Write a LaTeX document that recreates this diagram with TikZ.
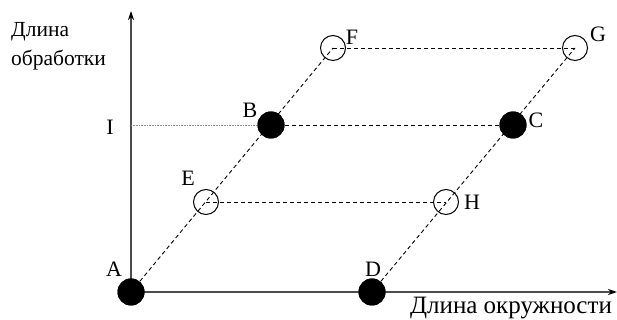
\documentclass[tikz,border=0pt]{standalone}
\usepackage{fontspec}
\setmainfont{Liberation Serif}
\usetikzlibrary{arrows.meta,positioning}
\begin{document}
\begin{tikzpicture}[x=1pt,y=1pt,
  ylabel/.style={font=\fontsize{21.5}{26}\selectfont,inner sep=0pt,anchor=base west},
  xlabel/.style={font=\fontsize{25}{30}\selectfont,inner sep=0pt,anchor=base},
  ptlabel/.style={font=\fontsize{22}{26}\selectfont,inner sep=0pt,anchor=base},
  fullpt/.style={circle,fill=black,minimum size=27pt,inner sep=0pt},
  openpt/.style={circle,draw=black,line width=1pt,minimum size=25pt,inner sep=0pt},
  guide/.style={dash pattern=on 4pt off 3pt,line width=0.9pt},
  axis/.style={line width=1.5pt,draw=black!70,-{Stealth[length=9pt,width=6pt,black]}}]
  \useasboundingbox (0,0) rectangle (617,320);
  % axes
  \coordinate (O) at (131,28);
  \coordinate (ytop) at (131,309);
  \coordinate (xend) at (617,28);
  \coordinate (yI) at (131,195);
  \draw[axis] (O) -- (ytop);
  \draw[axis] (O) -- (xend);
  % points
  \foreach \n/\x/\y in {A/131/28,D/372/28,B/271/195,C/513/195} {
    \node[fullpt] (\n) at (\x,\y) {};
  }
  \foreach \n/\x/\y in {E/206/118,H/446/118,F/333/272,G/575/272} {
    \node[openpt] (\n) at (\x,\y) {};
  }
  % guide lines
  \draw[guide] (A.center) -- (F.center);
  \draw[guide] (D.center) -- (G.center);
  \draw[guide] (F.center) -- (G.center);
  \draw[guide] (B.center) -- (C.center);
  \draw[guide] (E.center) -- (H.center);
  \draw[black!45,line width=0.8pt,dash pattern=on 1pt off 0.6pt] (yI) -- (B.center);
  % redraw filled points on top
  \foreach \n in {A,D,B,C} {\fill (\n) circle (13.5);}
  % labels
  \node[ptlabel] (lA) at (114,43) {A};
  \node[ptlabel] (lD) at (373,43) {D};
  \node[ptlabel] (lB) at (250,202) {B};
  \node[ptlabel] (lC) at (536,192) {C};
  \node[ptlabel] (lE) at (188,134) {E};
  \node[ptlabel] (lH) at (472,110) {H};
  \node[ptlabel] (lF) at (352,275) {F};
  \node[ptlabel] (lG) at (598,278) {G};
  \node[ptlabel] (lI) at (110,185) {I};
  \node[ylabel] (ylab1) at (11,283) {Длина};
  \node[ylabel] (ylab2) at (11,254) {обработки};
  \node[xlabel] (xlab) at (511,6) {Длина окружности};
\end{tikzpicture}
\end{document}
